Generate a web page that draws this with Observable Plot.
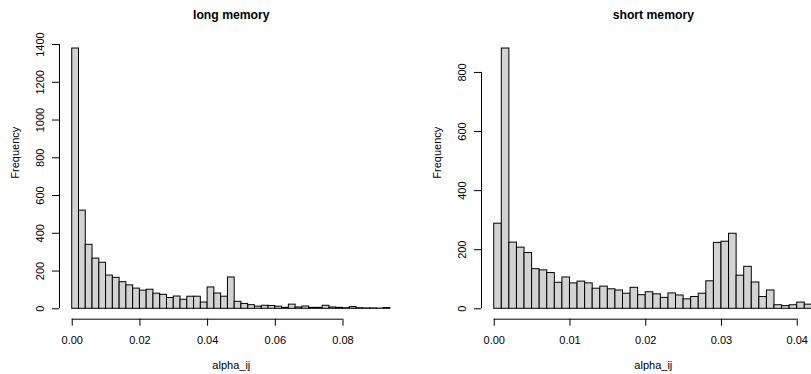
<!DOCTYPE html>
<html>
<head>
<meta charset="utf-8">
<script src="https://cdn.jsdelivr.net/npm/d3@7"></script>
<script src="https://cdn.jsdelivr.net/npm/@observablehq/plot@0.6"></script>
<style>
  html, body { margin: 0; padding: 0; background: #fff; overflow: hidden; }
  #wrap { position: relative; width: 811px; height: 374px; overflow: hidden; background: #fff; }
  #wrap svg { position: absolute; top: 0; }
</style>
</head>
<body>
<div id="wrap"></div>
<script>
// ---- data ----
const longTitle = "long memory";
const longBinWidth = 0.002;
const longCounts = [1379, 520, 339, 266, 244, 176, 164, 141, 124, 107,
                    96, 101, 80, 74, 57, 65, 48, 64, 64, 33,
                    113, 81, 64, 166, 37, 26, 19, 11, 16, 15,
                    11, 5, 22, 7, 12, 5, 5, 16, 7, 5,
                    3, 9, 3, 2, 2, 1, 4];
const longXTicks = [0, 0.02, 0.04, 0.06, 0.08];
const longYTicks = [0, 200, 400, 600, 800, 1000, 1200, 1400];

const shortTitle = "short memory";
const shortBinWidth = 0.001;
const shortCounts = [288, 881, 224, 207, 189, 134, 130, 121, 88, 106,
                     86, 92, 86, 68, 75, 66, 62, 51, 71, 46,
                     56, 49, 37, 52, 45, 32, 40, 51, 93, 223,
                     227, 254, 112, 142, 89, 40, 62, 12, 9, 12,
                     21, 14];
const shortXTicks = [0, 0.01, 0.02, 0.03, 0.04];
const shortYTicks = [0, 200, 400, 600, 800];

const xLabel = "alpha_ij";
const yLabel = "Frequency";

// ---- drawing ----
const FONT = "'Liberation Sans', Arial, Helvetica, sans-serif";

function panel({counts, binWidth, xTicks, yTicks, title, left}) {
  const bins = counts.map((c, i) => ({x1: i * binWidth, x2: (i + 1) * binWidth, count: c}));
  const xmax = counts.length * binWidth;
  const ymax = d3.max(counts);
  const xDomain = [-0.04 * xmax, 1.04 * xmax];
  const yDomain = [-0.04 * ymax, 1.04 * ymax];
  const xmin = xDomain[0], ymin = yDomain[0];
  const fmt = d3.format(".2f");
  const svg = Plot.plot({
    width: 422,
    height: 374,
    marginLeft: 59,
    marginRight: 19.4,
    marginTop: 37.6,
    marginBottom: 55.3,
    style: {fontFamily: FONT, fontSize: "11px", color: "black", background: "white", overflow: "visible"},
    x: {domain: xDomain},
    y: {domain: yDomain, axis: null},
    marks: [
      Plot.rectY(bins, {x1: "x1", x2: "x2", y: "count", fill: "#d3d3d3", stroke: "black", strokeWidth: 1, inset: 0}),
      // x axis (R style: line from first to last tick)
      Plot.ruleY([ymin], {x1: xTicks[0], x2: xTicks[xTicks.length - 1], stroke: "black", strokeWidth: 1}),
      Plot.axisX({ticks: xTicks, tickSize: 7, tickPadding: 10, tickFormat: fmt, fontSize: 11, label: null, stroke: "black", fill: "black"}),
      // y axis
      Plot.ruleX([xmin], {y1: yTicks[0], y2: yTicks[yTicks.length - 1], stroke: "black", strokeWidth: 1}),
      Plot.ruleY(yTicks, {y: d => d, x1: xmin, x2: xmin, insetLeft: -7, stroke: "black", strokeWidth: 1}),
      Plot.text(yTicks, {x: xmin, y: d => d, text: d => String(d), rotate: -90, dx: -18.6, fontSize: 11, fill: "black", lineAnchor: "middle", textAnchor: "middle"}),
      // labels and title
      Plot.text([xLabel], {frameAnchor: "bottom", dy: 45.8, text: d => d, fontSize: 11, fill: "black", lineAnchor: "middle"}),
      Plot.text([yLabel], {frameAnchor: "left", dx: -44.5, rotate: -90, text: d => d, fontSize: 11, fill: "black", lineAnchor: "middle"}),
      Plot.text([title], {frameAnchor: "top", dy: -23.3, text: d => d, fontSize: 12.2, fontWeight: "bold", fill: "black", lineAnchor: "middle"})
    ]
  });
  svg.style.left = left + "px";
  return svg;
}

const wrap = document.getElementById("wrap");
wrap.appendChild(panel({counts: longCounts, binWidth: longBinWidth, xTicks: longXTicks, yTicks: longYTicks, title: longTitle, left: 0}));
wrap.appendChild(panel({counts: shortCounts, binWidth: shortBinWidth, xTicks: shortXTicks, yTicks: shortYTicks, title: shortTitle, left: 422}));
</script>
</body>
</html>
